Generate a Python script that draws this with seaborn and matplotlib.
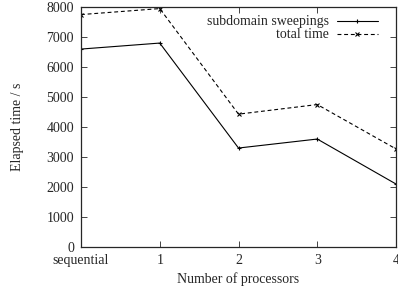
import numpy as np
import pandas as pd
import matplotlib
matplotlib.use("Agg")
import matplotlib.pyplot as plt
import seaborn as sns

# data
procs = ["sequential", "1", "2", "3", "4"]
sweepings = [6600, 6800, 3300, 3600, 2100]
total_time = [7750, 7950, 4430, 4750, 3270]

df = pd.DataFrame({
    "pos": list(range(len(procs))) * 2,
    "time": sweepings + total_time,
    "series": ["subdomain sweepings"] * len(procs) + ["total time"] * len(procs),
})

sns.set_style("ticks")
plt.rcParams["font.family"] = ["Liberation Serif", "DejaVu Serif"]
plt.rcParams["font.size"] = 10

fig = plt.figure(figsize=(3.98, 2.95), dpi=100)
ax = fig.add_axes([0.2035, 0.1627, 0.7915, 0.8133])

sns.lineplot(data=df, x="pos", y="time", hue="series", style="series",
             palette=["black", "black"], dashes=[(None, None), (3.5, 2.5)],
             markers=["+", "x"], markersize=3.5, markeredgewidth=0.8,
             markeredgecolor="black", linewidth=0.8, ax=ax)

ax.set_xlim(0, 4)
ax.set_ylim(0, 8000)
ax.set_xticks(range(len(procs)))
ax.set_xticklabels(procs)
ax.set_yticks(np.arange(0, 8001, 1000))
ax.tick_params(direction="in", top=True, right=True, length=4, width=0.6,
               labelsize=10, pad=5)
for s in ax.spines.values():
    s.set_linewidth(0.9)
    s.set_visible(True)

ax.set_xlabel("Number of processors", fontsize=10, labelpad=4)
ax.set_ylabel("Elapsed time / s", fontsize=10, labelpad=16)

ax.legend(loc="upper right", bbox_to_anchor=(0.968, 1.0), frameon=False,
          markerfirst=False, fontsize=10, handlelength=2.9,
          borderaxespad=0.2, labelspacing=0.0, handletextpad=0.6)

fig.savefig("out.png", dpi=100)
